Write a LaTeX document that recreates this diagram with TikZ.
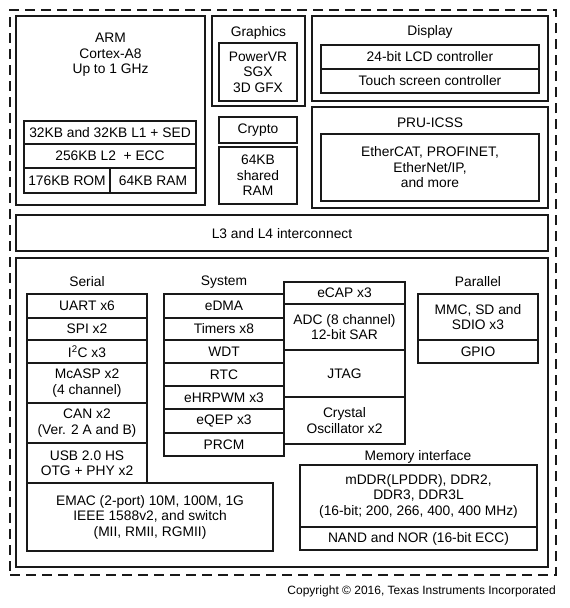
\documentclass[tikz,border=0pt]{standalone}
\usepackage{fontspec}
\setmainfont{Liberation Sans}
\begin{document}
\begin{tikzpicture}[x=1pt,y=-1pt,
  outerbox/.style={draw=black!90, line width=2pt, inner sep=0pt},
  innerbox/.style={draw=black!90, line width=1.3pt, inner sep=0pt, font=\fontsize{13.8}{15.5}\selectfont, align=center},
  dashbox/.style={draw=black!90, line width=1.8pt, dash pattern=on 10pt off 6pt, inner sep=0pt},
  lbl/.style={font=\fontsize{13.8}{15.5}\selectfont, align=center, inner sep=0pt},
  copy/.style={font=\fontsize{12}{14}\selectfont, inner sep=0pt, anchor=east}
]
\newcommand\bx[7]{\node[#2, minimum width={(#5-#3)*1pt}, minimum height={(#6-#4)*1pt}] (#1) at ({(#3+#5)/2},{(#4+#6)/2}) {#7};}
\useasboundingbox[fill=white] (0,0) rectangle (570,608);
% outer dashed
\bx{chip}{dashbox}{10}{10}{556}{575}{}
% ARM
\bx{arm}{outerbox}{16}{16}{205}{205}{}
\node[lbl] (armt) at (110.5,55) {ARM\\Cortex-A8\\Up to 1 GHz};
\bx{lone}{innerbox}{24}{121}{196}{144}{32KB and 32KB L1 + SED}
\bx{ltwo}{innerbox}{24}{144}{196}{168}{256KB L2~~+ ECC}
\bx{rom}{innerbox}{24}{168}{110}{193}{176KB ROM}
\bx{ram}{innerbox}{110}{168}{196}{193}{64KB RAM}
% Graphics
\bx{gfx}{outerbox}{212}{16}{305}{106}{}
\node[lbl] (gfxt) at (258.5,33) {Graphics};
\bx{pvr}{innerbox}{219}{43}{297}{101}{PowerVR\\SGX\\3D GFX}
\bx{crypto}{innerbox}{219}{117}{297}{143}{Crypto}
\bx{shram}{innerbox}{219}{147}{297}{204}{64KB\\shared\\RAM}
% Display
\bx{disp}{outerbox}{312}{16}{548}{101}{}
\node[lbl] (dispt) at (430,32) {Display};
\bx{lcd}{innerbox}{321}{45}{539}{69}{24-bit LCD controller}
\bx{touch}{innerbox}{321}{69}{539}{93}{Touch screen controller}
% PRU
\bx{pru}{outerbox}{312}{107}{548}{208}{}
\node[lbl] (prut) at (430,123) {PRU-ICSS};
\bx{prui}{innerbox}{321}{134}{539}{201}{EtherCAT, PROFINET,\\EtherNet/IP,\\and more}
% L3/L4
\bx{lthree}{outerbox}{16}{215}{548}{251}{}
\node[lbl] (lthreet) at (282,234) {L3 and L4 interconnect};
% peripherals
\bx{periph}{outerbox}{16}{258}{548}{567}{}
\node[lbl] (serialt) at (87,282) {Serial};
\bx{uart}{innerbox}{27}{294}{147}{318}{UART x6}
\bx{spi}{innerbox}{27}{318}{147}{340}{SPI x2}
\bx{iic}{innerbox}{27}{340}{147}{363}{I\textsuperscript{2}C x3}
\bx{mcasp}{innerbox}{27}{363}{147}{403}{McASP x2\\(4 channel)}
\bx{can}{innerbox}{27}{403}{147}{443}{CAN x2\\(Ver. 2 A and B)}
\bx{usb}{innerbox}{27}{443}{147}{483}{USB 2.0 HS\\OTG + PHY x2}
\bx{emac}{innerbox}{27}{483}{273}{551}{EMAC (2-port) 10M, 100M, 1G\\IEEE 1588v2, and switch\\(MII, RMII, RGMII)}
\node[lbl] (systemt) at (224,282) {System};
\bx{edma}{innerbox}{164}{294}{284}{318}{eDMA}
\bx{timers}{innerbox}{164}{318}{284}{340}{Timers x8}
\bx{wdt}{innerbox}{164}{340}{284}{363}{WDT}
\bx{rtc}{innerbox}{164}{363}{284}{386}{RTC}
\bx{ehrpwm}{innerbox}{164}{386}{284}{409}{eHRPWM x3}
\bx{eqep}{innerbox}{164}{409}{284}{433}{eQEP x3}
\bx{prcm}{innerbox}{164}{433}{284}{456}{PRCM}
\bx{ecap}{innerbox}{284}{282}{405}{304}{eCAP x3}
\bx{adc}{innerbox}{284}{304}{405}{350}{ADC (8 channel)\\12-bit SAR}
\bx{jtag}{innerbox}{284}{350}{405}{397}{JTAG}
\bx{xtal}{innerbox}{284}{397}{405}{444}{Crystal\\Oscillator x2}
\node[lbl] (parallelt) at (478,282) {Parallel};
\bx{mmc}{innerbox}{418}{294}{538}{340}{MMC, SD and\\SDIO x3}
\bx{gpio}{innerbox}{418}{340}{538}{363}{GPIO}
\node[lbl] (memt) at (418,457) {Memory interface};
\bx{ddr}{innerbox}{300}{465}{537}{527}{mDDR(LPDDR), DDR2,\\DDR3, DDR3L\\(16-bit; 200, 266, 400, 400 MHz)}
\bx{nand}{innerbox}{300}{527}{537}{550}{NAND and NOR (16-bit ECC)}
\node[copy] (copyr) at (556,591) {Copyright © 2016, Texas Instruments Incorporated};
\end{tikzpicture}
\end{document}
